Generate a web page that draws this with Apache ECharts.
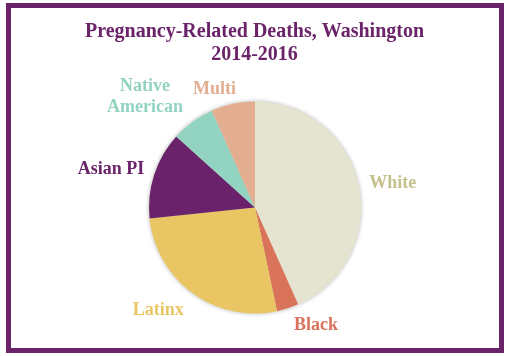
<!DOCTYPE html>
<html>
<head>
<meta charset="utf-8">
<script src="https://cdn.jsdelivr.net/npm/echarts@6/dist/echarts.min.js"></script>
<style>
html,body{margin:0;padding:0;background:#fff;}
#chart{width:509px;height:356px;}
</style>
</head>
<body>
<div id="chart"></div>
<script>
// ---- data ----
var categories = ['White', 'Black', 'Latinx', 'Asian PI', 'Native\nAmerican', 'Multi'];
var deaths = [13, 1, 8, 4, 2, 2];
var titleLines = ['Pregnancy-Related Deaths, Washington', '2014-2016'];

// ---- styles ----
var sliceColors = ['#E5E4D0', '#D9735A', '#E9C663', '#6A236B', '#92D3C2', '#E3AE90'];
var labelColors = ['#C4C08C', '#D9735A', '#E9C663', '#6A236B', '#92D3C2', '#E3AE90'];
var purple = '#6B2369';
var fontFam = '"Liberation Serif", serif';
var cx = 255, cy = 207.5, R = 106;
// label placement (polar: clockwise angle from 12 o'clock in degrees, distance from centre in px)
var labelPolar = [[79.9, 140], [152.7, 133], [223.3, 141], [284.8, 149], [315.2, 156], [341.1, 125]];

var chart = echarts.init(document.getElementById('chart'), null, {renderer: 'canvas'});

var pieData = categories.map(function (c, i) {
  return {
    name: c, value: deaths[i],
    itemStyle: {color: sliceColors[i]},
    label: {color: labelColors[i]}
  };
});

chart.setOption({
  animation: false,
  backgroundColor: '#fff',
  title: {
    text: titleLines.join('\n'),
    left: 'center',
    top: 20,
    padding: 0,
    textStyle: {
      fontFamily: fontFam, fontWeight: 'bold', fontSize: 20,
      color: purple, lineHeight: 23, align: 'center'
    }
  },
  graphic: [{
    type: 'rect',
    shape: {x: 8.5, y: 5.5, width: 493, height: 345},
    style: {fill: null, stroke: purple, lineWidth: 5},
    z: 100
  }],
  series: [{
    type: 'pie',
    z: 1,
    silent: true,
    center: [cx, cy],
    radius: R,
    label: {show: false},
    labelLine: {show: false},
    itemStyle: {color: '#E5E4D0', shadowBlur: 4, shadowColor: 'rgba(0,0,0,0.3)'},
    data: [{value: 1, name: ''}]
  }, {
    type: 'pie',
    z: 2,
    center: [cx, cy],
    radius: R,
    startAngle: 90,
    clockwise: true,
    silent: true,
    emphasis: {disabled: true},
    label: {
      show: true,
      position: 'outside',
      fontFamily: fontFam,
      fontWeight: 'bold',
      fontSize: 18,
      lineHeight: 21.6,
      align: 'center',
      formatter: '{b}'
    },
    labelLine: {show: false},
    labelLayout: function (p) {
      var lp = labelPolar[p.dataIndex];
      var a = lp[0] * Math.PI / 180;
      return {
        x: cx + lp[1] * Math.sin(a),
        y: cy - lp[1] * Math.cos(a),
        align: 'center',
        verticalAlign: 'middle'
      };
    },
    data: pieData
  }]
});
</script>
</body>
</html>
